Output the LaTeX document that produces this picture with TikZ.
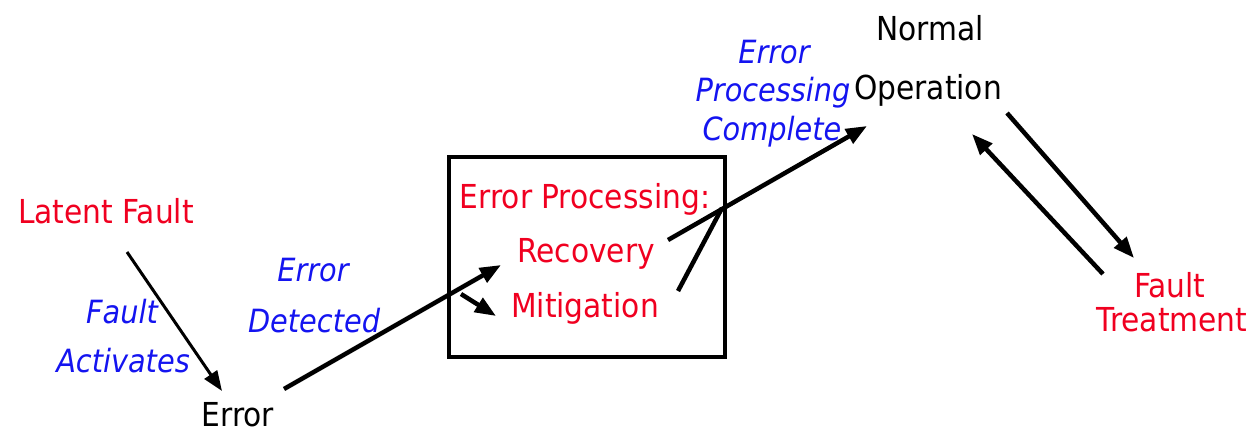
\documentclass[tikz,border=0pt]{standalone}
\usepackage{fontspec}
\setmainfont{DejaVu Sans Condensed}
\usetikzlibrary{arrows.meta}
\definecolor{redt}{RGB}{240,0,32}
\definecolor{bluet}{RGB}{20,20,240}
\tikzset{
  lbl/.style={inner sep=0pt, font=\fontsize{33}{36}\selectfont},
  redlbl/.style={lbl, text=redt},
  blklbl/.style={lbl, text=black},
  bluelbl/.style={lbl, text=bluet, font=\fontsize{32}{36}\selectfont\itshape},
  thinarr/.style={line width=3pt, -{Triangle[length=20pt,width=15pt]}},
  thickarr/.style={line width=4.5pt, -{Triangle[length=21pt,width=16pt]}},
  thickline/.style={line width=4.5pt},
}
\begin{document}
\begin{tikzpicture}[x=1pt,y=-1pt]
\useasboundingbox (0,0) rectangle (1251,436);
% nodes
\node[redlbl] (lf) at (106,211) {Latent Fault};
\node[bluelbl] (fa1) at (122,312) {Fault};
\node[bluelbl] (fa2) at (123,361) {Activates};
\node[blklbl] (err) at (238,415) {Error};
\node[bluelbl] (ed1) at (313,270) {Error};
\node[bluelbl] (ed2) at (314,321) {Detected};
\node[draw, line width=3.5pt, minimum width=276pt, minimum height=200pt, inner sep=0pt] (box) at (587,257) {};
\node[redlbl] (ep) at (585,199) {Error Processing:};
\node[redlbl] (rec) at (586,254) {Recovery};
\node[redlbl] (mit) at (585,308) {Mitigation};
\node[bluelbl] (epc1) at (774,52) {Error};
\node[bluelbl] (epc2) at (773,93) {Processing};
\node[bluelbl] (epc3) at (772,132) {Complete};
\node[blklbl] (norm) at (930,28) {Normal};
\node[blklbl] (op) at (928,90) {Operation};
\node[redlbl] (ft1) at (1170,285) {Fault};
\node[redlbl] (ft2) at (1172,320) {Treatment};
% connector end points
\coordinate (lfout) at (127,252);
\coordinate (errin) at (222,391);
\coordinate (errout) at (284,389);
\coordinate (recin) at (501,265);
\coordinate (boxin) at (461,294);
\coordinate (mitin) at (496,316);
\coordinate (recout) at (668,240);
\coordinate (opin) at (867,126);
\coordinate (mitout) at (678,291);
\coordinate (join) at (722,208);
\coordinate (opout) at (1007,113);
\coordinate (ftin) at (1134,258);
\coordinate (ftout) at (1103,274);
\coordinate (opin2) at (972,134);
% connectors
\draw[thinarr] (lfout) -- (errin);
\draw[thickarr] (errout) -- (recin);
\draw[thickarr] (boxin) -- (mitin);
\draw[thickarr] (recout) -- (opin);
\draw[thickline] (mitout) -- (join);
\draw[thickarr] (opout) -- (ftin);
\draw[thickarr] (ftout) -- (opin2);
\end{tikzpicture}
\end{document}
